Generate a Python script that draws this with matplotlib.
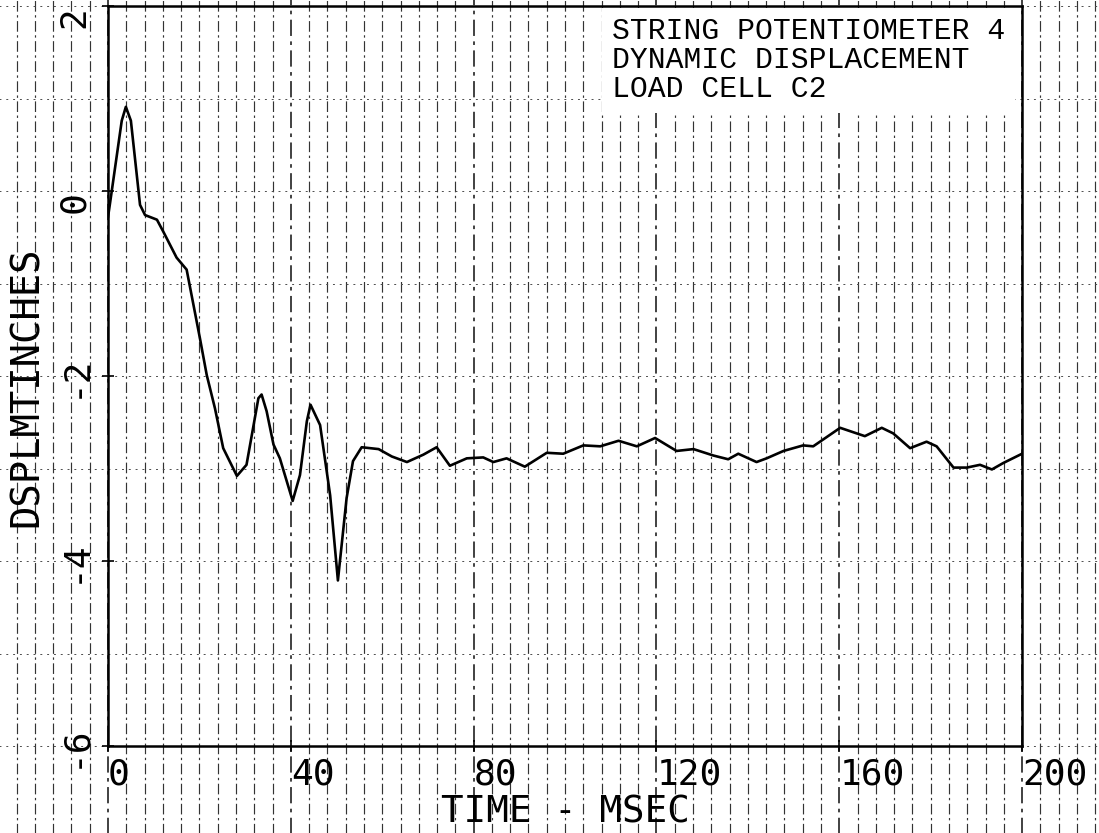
import numpy as np
import matplotlib
matplotlib.use('Agg')
import matplotlib.pyplot as plt

time_ms = [0, 0.5, 3.0, 3.9, 5.0, 7.0, 8.1, 10.7, 12.1, 15.0, 17.2, 20.1, 21.6, 23.4, 25.2,
           28.2, 30.3, 32.9, 33.6, 34.7, 36.2, 37.6, 40.4, 42.0, 43.5, 44.3, 46.4, 48.6, 50.3,
           52.2, 53.6, 55.5, 59.2, 62.1, 65.4, 69.0, 71.9, 74.8, 78.5, 82.1, 84.3, 87.2, 91.2,
           96.0, 99.6, 104.0, 107.7, 111.7, 115.7, 119.7, 124.4, 128.1, 132.5, 135.7, 137.9,
           141.9, 144.1, 147.8, 152.1, 154.3, 160.2, 165.6, 169.3, 171.8, 175.5, 179.1, 181.3,
           185.0, 187.9, 190.8, 193.4, 195.9, 200]
displ_in = [-0.28, -0.11, 0.76, 0.91, 0.76, -0.15, -0.26, -0.31, -0.44, -0.72, -0.85, -1.59,
            -1.99, -2.35, -2.78, -3.08, -2.96, -2.24, -2.20, -2.38, -2.74, -2.89, -3.35, -3.07,
            -2.49, -2.31, -2.53, -3.29, -4.21, -3.32, -2.92, -2.77, -2.79, -2.87, -2.93, -2.85,
            -2.77, -2.97, -2.89, -2.88, -2.93, -2.89, -2.98, -2.83, -2.84, -2.75, -2.76, -2.70,
            -2.76, -2.67, -2.81, -2.79, -2.86, -2.90, -2.84, -2.93, -2.89, -2.81, -2.75, -2.76,
            -2.56, -2.65, -2.56, -2.62, -2.78, -2.71, -2.76, -2.99, -2.99, -2.96, -3.01, -2.94,
            -2.84]

xTicks = [0, 40, 80, 120, 160, 200]
yTicks = [-6, -4, -2, 0, 2]
legendLines = ['STRING POTENTIOMETER 4', 'DYNAMIC DISPLACEMENT', 'LOAD CELL C2']

plotFont = 'DejaVu Sans Mono'

fig = plt.figure(figsize=(10.99, 8.33), dpi=100)
ax = fig.add_axes([0.0983, 0.1044, 0.8317, 0.8884])
ax.set_xlim(0, 200)
ax.set_ylim(-6, 2)

# scanned paper look: dashed verticals every 4 ms, running off the axes
for gx in np.arange(-20, 220, 4):
    heavy = (gx % 40 == 0)
    ax.axvline(gx, ymin=-0.12, ymax=1.01, clip_on=False, color='k',
               lw=1.3 if heavy else 0.85, alpha=0.8,
               linestyle=(0, (9, 3, 2, 3)), zorder=0)
for gy in range(-6, 3):
    ax.axhline(gy, xmin=-0.12, xmax=1.09, clip_on=False, color='0.3',
               lw=0.7, linestyle=(0, (2, 5)), zorder=0)

ax.plot(time_ms, displ_in, color='k', lw=1.9, zorder=3)

for s in ax.spines.values():
    s.set_linewidth(1.8)
    s.set_zorder(4)

ax.set_xticks(xTicks)
ax.set_xticklabels([str(t) for t in xTicks], fontsize=26, family=plotFont, ha='left')
ax.set_yticks(yTicks)
ax.set_yticklabels([str(t) for t in yTicks], fontsize=26, family=plotFont, rotation=90)
# plotter put the positive numbers just under the tick, negatives centred on it
for lbl, t in zip(ax.get_yticklabels(), yTicks):
    lbl.set_va('top' if t >= 0 else 'center')
ax.tick_params(axis='x', direction='inout', length=8, width=1.2, pad=4)
ax.tick_params(axis='y', direction='inout', length=8, width=1.2, pad=8)

ax.set_xlabel('TIME - MSEC', fontsize=27, family=plotFont, va='baseline')
ax.xaxis.set_label_coords(0.5, -0.104)
ax.set_ylabel('DSPLMTINCHES', fontsize=28, family=plotFont, va='center')
ax.yaxis.set_label_coords(-0.089, 0.486)

ax.text(0.5514, 0.9845, '\n'.join(legendLines), transform=ax.transAxes,
        fontsize=21.4, family='Liberation Mono', va='top', ha='left', linespacing=1.03,
        bbox=dict(facecolor='white', edgecolor='none', pad=7), zorder=5)

plt.savefig('out.png', dpi=100)
